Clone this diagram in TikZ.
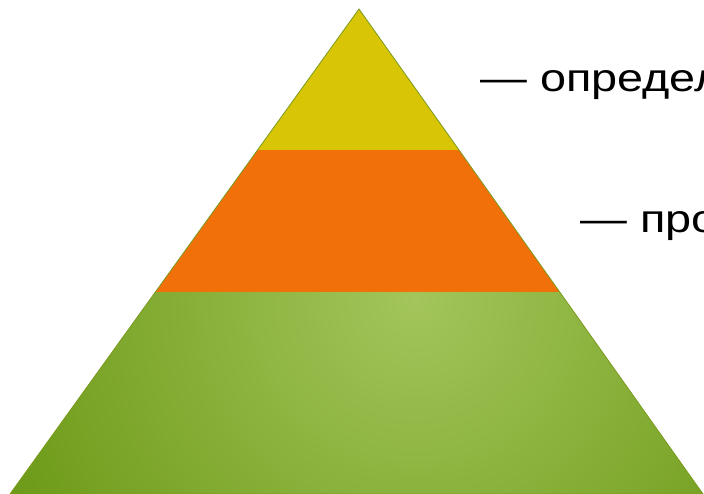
\documentclass[tikz,border=0pt]{standalone}
\usepackage{fontspec}
\setmainfont{Liberation Sans}
\definecolor{pyel}{HTML}{D8C506}
\definecolor{pora}{HTML}{F2700A}
\definecolor{pgin}{HTML}{A3C55B}
\definecolor{pgout}{HTML}{64930C}
\definecolor{pline}{HTML}{7A9A1E}
\tikzset{lbl/.style={anchor=base west,font=\fontsize{39}{44}\selectfont,inner sep=0pt,xscale=1.2}}
\begin{document}
\begin{tikzpicture}[x=1pt,y=-1pt]
\useasboundingbox (0,0) rectangle (704,494);
\coordinate (A) at (359,9);
\coordinate (L) at (10,494);
\coordinate (R) at (703,494);
% bands
\path (A) -- (L) coordinate[pos=0.2907] (yl) coordinate[pos=0.5835] (ol);
\path (A) -- (R) coordinate[pos=0.2907] (yr) coordinate[pos=0.5835] (or);
\begin{scope}
\clip (ol) -- (or) -- (R) -- (L) -- cycle;
\shade[inner color=pgin, outer color=pgout] (415,300) circle (520);
\end{scope}
\fill[pora] (yl) -- (yr) -- (or) -- (ol) -- cycle;
\fill[pyel] (A) -- (yr) -- (yl) -- cycle;
\draw[pline,line width=0.8pt,line join=miter] (A) -- (R) -- (L) -- cycle;
\node[lbl] (t1) at (480,92) {— определ};
\node[lbl] (t2) at (580,233) {— про};
\end{tikzpicture}
\end{document}
